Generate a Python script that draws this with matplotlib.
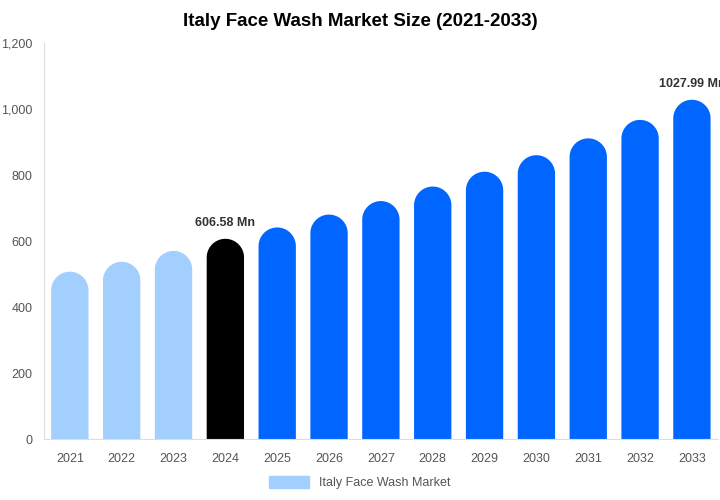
import matplotlib
matplotlib.use("Agg")
import numpy as np
import matplotlib.pyplot as plt
from matplotlib.patches import Polygon, Patch
from matplotlib.ticker import FuncFormatter

years = ["2021", "2022", "2023", "2024", "2025", "2026", "2027",
         "2028", "2029", "2030", "2031", "2032", "2033"]
values = [507, 537, 570, 606.58, 641, 680, 721, 765, 810, 860, 911, 967, 1027.99]
colors = ["#a3cfff"] * 3 + ["#000000"] + ["#0066ff"] * 9
labels = {3: "606.58 Mn", 12: "1027.99 Mn"}

plt.rcParams['font.family'] = ['Liberation Sans', 'DejaVu Sans']

fig = plt.figure(figsize=(7.2, 5), dpi=100)
ax = fig.add_axes([0.061, 0.122, 0.936, 0.792])
ax.set_xlim(-0.5, len(years) - 0.5)
ax.set_ylim(0, 1200)

bw = 0.72
fig.canvas.draw()
# round cap: same pixel radius as half the bar width
p0 = ax.transData.transform((0, 0))
p1 = ax.transData.transform((bw / 2, 0))
r_px = p1[0] - p0[0]
inv = ax.transData.inverted()
r_y = inv.transform((p0[0], p0[1] + r_px))[1] - inv.transform(p0)[1]

t = np.linspace(np.pi, 0, 60)
for i, (v, c) in enumerate(zip(values, colors)):
    cy = v - r_y
    arc = np.column_stack([i + bw / 2 * np.cos(t), cy + r_y * np.sin(t)])
    pts = np.vstack([[i - bw / 2, 0], arc, [i + bw / 2, 0]])
    ax.add_patch(Polygon(pts, closed=True, facecolor=c, edgecolor='none'))
    if i in labels:
        ax.text(i, v + 30, labels[i], ha='center', va='bottom',
                fontsize=9, fontweight='bold', color='#333333', clip_on=False)

ax.set_xticks(range(len(years)))
ax.set_xticklabels(years)
ax.set_yticks(range(0, 1201, 200))
ax.yaxis.set_major_formatter(FuncFormatter(lambda x, p: f"{int(x):,}"))
ax.tick_params(axis='both', length=0, labelsize=9, colors='#555555')
ax.tick_params(axis='x', pad=10)
ax.tick_params(axis='y', pad=8)

for s in ['top', 'right']:
    ax.spines[s].set_visible(False)
ax.spines['left'].set_color('#dddddd')
ax.spines['bottom'].set_color('#dddddd')

fig.suptitle("Italy Face Wash Market Size (2021-2033)", x=0.5, y=0.975,
             fontsize=13.5, fontweight='bold')

fig.legend(handles=[Patch(color="#a3cfff", label="Italy Face Wash Market")],
           loc='lower center', bbox_to_anchor=(0.5, 0.0), frameon=False,
           fontsize=9, labelcolor='#555555', handlelength=3.2, handleheight=1.1)

fig.savefig("out.png", dpi=100)
